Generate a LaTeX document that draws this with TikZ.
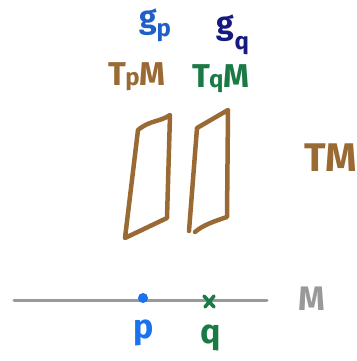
\documentclass[tikz,border=0pt]{standalone}
\usepackage{fontspec}
\usetikzlibrary{calc}
\setmainfont{Fira Sans}
\definecolor{cbrown}{HTML}{9A6A35}
\definecolor{cgreen}{HTML}{1A7A45}
\definecolor{cblue}{HTML}{1F5FC8}
\definecolor{cbright}{HTML}{1A72F0}
\definecolor{cnavy}{HTML}{161A80}
\definecolor{cgray}{HTML}{999999}
\begin{document}
\begin{tikzpicture}[x=1pt,y=-1pt,
  lbl/.style={inner sep=0pt,anchor=base,font=\bfseries\fontsize{33}{33}\selectfont},
  quad/.style={draw=cbrown,line width=4.5pt,line join=round,line cap=round}]
\useasboundingbox (0,0) rectangle (356,361);
% labels
\node[lbl,text=cblue,font=\bfseries\fontsize{32}{32}\selectfont] (gp) at (155,29) {g\kern0pt\raisebox{-8pt}{\fontsize{24}{24}\selectfont p}};
\node[lbl,text=cnavy,font=\bfseries\fontsize{32}{32}\selectfont] (gq) at (233,35) {g\kern0pt\raisebox{-14pt}{\fontsize{24}{24}\selectfont q}};
\node[lbl,text=cbrown] (tpm) at (137,85) {T\kern-1pt{\fontsize{24}{24}\selectfont p}M};
\node[lbl,text=cgreen] (tqm) at (221,87) {T\kern-1pt{\fontsize{24}{24}\selectfont q}M};
\node[lbl,text=cbrown,font=\bfseries\fontsize{40}{40}\selectfont] (tm) at (331,171) {TM};
% fibres
\draw[quad] (138,130) .. controls (150,120) and (160,122) .. (170,115) -- (167,218) -- (125,238) -- cycle;
\draw[quad] (189,231) -- (197,128) -- (228,110) -- (227,217) .. controls (215,221) and (203,225) .. (195,232);
% base
\coordinate (ml) at (14,300);
\coordinate (mr) at (267,300);
\draw[cgray,line width=3pt,line cap=round] (ml) -- (mr);
\node[lbl,text=cgray,font=\bfseries\fontsize{34}{34}\selectfont] (m) at (312,310) {M};
\fill[cbright] (143,298) circle (5pt) coordinate (p);
\coordinate (q) at (209,301);
\draw[cgreen,line width=3.5pt,line cap=round] ($(q)+(-5,-5)$) -- ($(q)+(5,6)$) ($(q)+(5,-5)$) -- ($(q)+(-4,6)$);
\node[lbl,text=cbright,font=\bfseries\fontsize{34}{34}\selectfont] (plbl) at (144,338) {p};
\node[lbl,text=cgreen,font=\bfseries\fontsize{34}{34}\selectfont] (qlbl) at (211,343) {q};
\end{tikzpicture}
\end{document}
